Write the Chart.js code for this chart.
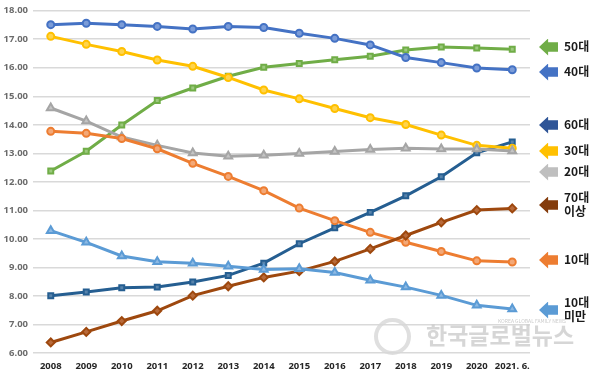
<!DOCTYPE html>
<html>
<head>
<meta charset="utf-8">
<script src="https://cdn.jsdelivr.net/npm/chart.js@4/dist/chart.umd.min.js"></script>
<style>
	html, body { margin: 0; padding: 0; background: #fff; }
	#wrap { position: relative; width: 600px; height: 375px; font-family: "Noto Sans CJK KR", "Noto Sans", sans-serif; overflow: hidden; }
	canvas { position: absolute; left: 0; top: 0; }
	.arrow { position: absolute; left: 539px; width: 19px; height: 17px;
		clip-path: polygon(0 50%, 48% 0, 48% 22%, 100% 22%, 100% 78%, 48% 78%, 48% 100%); }
	.lab { position: absolute; left: 564px; font-size: 12px; font-weight: 700; color: #1a1a1a; line-height: 14px; white-space: nowrap; }
	.mark { position: absolute; left: 426px; top: 317px; font-size: 23px; font-weight: 700; color: rgba(200,200,200,0.75); white-space: nowrap; }
	.mark2 { position: absolute; left: 498px; top: 317px; font-size: 5px; color: rgba(190,190,190,0.8); white-space: nowrap; }
	.globe { position: absolute; left: 374px; top: 318px; width: 37px; height: 37px; border-radius: 50%; border: 4px solid rgba(215,215,215,0.8); box-sizing: border-box; }
</style>
</head>
<body>
<div id="wrap">
	<canvas id="chart" width="600" height="375"></canvas>
	<div class="globe"></div>
	<div class="mark">한국글로벌뉴스</div>
	<div class="mark2">KOREA GLOBAL FAMILY NEWS</div>
	<div id="legend"></div>
</div>
<script>
const years = ['2008', '2009', '2010', '2011', '2012', '2013', '2014', '2015', '2016', '2017', '2018', '2019', '2020', '2021. 6.'];

const age50 = [12.38, 13.07, 13.99, 14.85, 15.29, 15.70, 16.02, 16.15, 16.28, 16.40, 16.62, 16.73, 16.69, 16.65];
const age40 = [17.51, 17.56, 17.51, 17.45, 17.36, 17.45, 17.41, 17.21, 17.03, 16.80, 16.36, 16.18, 15.99, 15.93];
const age60 = [8.01, 8.14, 8.29, 8.31, 8.49, 8.72, 9.15, 9.83, 10.39, 10.93, 11.51, 12.18, 13.02, 13.40];
const age30 = [17.10, 16.82, 16.57, 16.27, 16.05, 15.66, 15.22, 14.91, 14.57, 14.25, 14.01, 13.64, 13.28, 13.18];
const age20 = [14.59, 14.13, 13.57, 13.28, 13.01, 12.90, 12.93, 12.99, 13.06, 13.13, 13.18, 13.15, 13.15, 13.08];
const age70 = [6.37, 6.74, 7.12, 7.48, 8.01, 8.34, 8.65, 8.87, 9.21, 9.65, 10.12, 10.58, 11.01, 11.07];
const age10 = [13.77, 13.70, 13.52, 13.16, 12.65, 12.19, 11.69, 11.08, 10.64, 10.23, 9.88, 9.56, 9.23, 9.19];
const ageUnder10 = [10.29, 9.88, 9.40, 9.20, 9.15, 9.04, 8.93, 8.95, 8.82, 8.55, 8.31, 8.02, 7.67, 7.54];

const yTicks = [6, 7, 8, 9, 10, 11, 12, 13, 14, 15, 16, 17, 18];

// legend entries on the right: label, colour, vertical centre
const legendItems = [
	{ text: '50대', color: '#70AD47', y: 47 },
	{ text: '40대', color: '#4472C4', y: 72 },
	{ text: '60대', color: '#2F5597', y: 125 },
	{ text: '30대', color: '#FFC000', y: 151 },
	{ text: '20대', color: '#BFBFBF', y: 172 },
	{ text: '70대<br>이상', color: '#843C0C', y: 205 },
	{ text: '10대', color: '#ED7D31', y: 260 },
	{ text: '10대<br>미만', color: '#5B9BD5', y: 310 },
];

function line(label, data, color, light, style, radius) {
	return {
		label: label,
		data: data,
		borderColor: color,
		backgroundColor: color,
		borderWidth: 3,
		pointStyle: style,
		pointRadius: radius || 3.5,
		pointBorderWidth: 2,
		pointBorderColor: color,
		pointBackgroundColor: light,
		tension: 0,
	};
}

new Chart(document.getElementById('chart').getContext('2d'), {
	type: 'line',
	data: {
		labels: years,
		datasets: [
			line('10대 미만', ageUnder10, '#5B9BD5', '#8DB9E3', 'triangle', 4.5),
			line('70대 이상', age70, '#9E480E', '#B86A3A', 'rectRot', 4),
			line('10대', age10, '#ED7D31', '#F3A877', 'circle'),
			line('20대', age20, '#A5A5A5', '#C4C4C4', 'triangle', 4.5),
			line('30대', age30, '#FFC000', '#FFD44D', 'circle'),
			line('40대', age40, '#4472C4', '#7B9CD8', 'circle'),
			line('50대', age50, '#70AD47', '#9CC97E', 'rect'),
			line('60대', age60, '#255E91', '#5883AB', 'rect'),
		],
	},
	options: {
		responsive: false,
		animation: false,
		layout: { padding: { top: 9, right: 70, left: 0, bottom: 0 } },
		plugins: { legend: { display: false }, tooltip: { enabled: false } },
		scales: {
			x: {
				offset: true,
				grid: { display: false, drawTicks: false },
				border: { display: false },
				ticks: { color: '#262626', font: { size: 9.5, weight: 'bold', family: 'Noto Sans' }, padding: 8, maxRotation: 0, autoSkip: false },
				afterFit: (s) => { s.height = 22; },
			},
			y: {
				min: 6,
				max: 18,
				afterBuildTicks: (s) => { s.ticks = yTicks.map(v => ({ value: v })); },
				grid: { color: '#D9D9D9', lineWidth: 1.5, drawTicks: false },
				border: { display: false },
				ticks: { color: '#6b6b6b', font: { size: 9.5, weight: 'bold', family: 'Noto Sans' }, padding: 5, callback: (v) => v.toFixed(2) },
				afterFit: (s) => { s.width = 33; },
			},
		},
	},
});

const legend = document.getElementById('legend');
legendItems.forEach((it) => {
	const a = document.createElement('div');
	a.className = 'arrow';
	a.style.top = (it.y - 8.5) + 'px';
	a.style.background = it.color;
	legend.appendChild(a);
	const l = document.createElement('div');
	l.className = 'lab';
	l.innerHTML = it.text;
	const lines = it.text.split('<br>').length;
	l.style.top = (it.y - lines * 7 - 1) + 'px';
	legend.appendChild(l);
});
</script>
</body>
</html>
